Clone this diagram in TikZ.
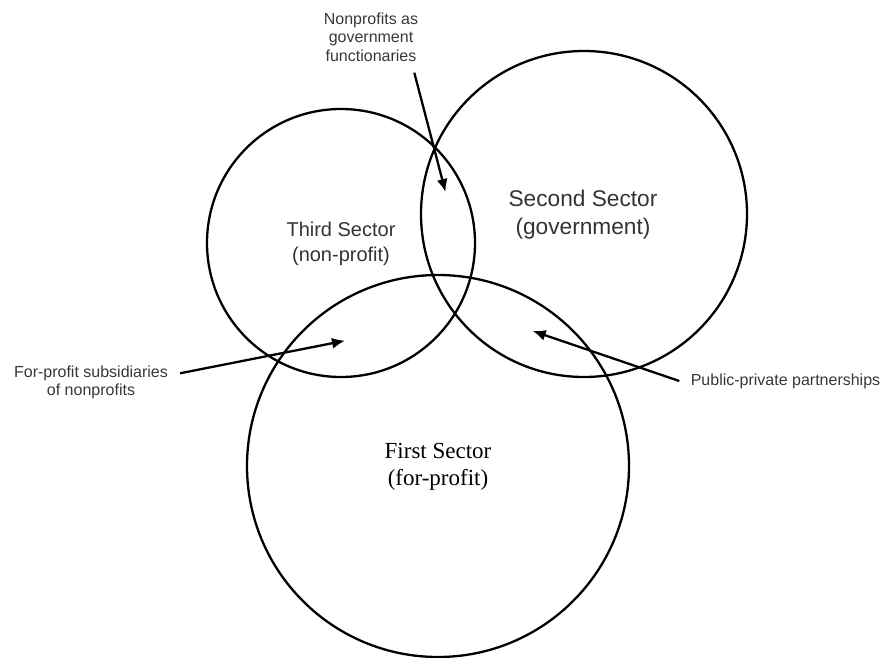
\documentclass[tikz,border=0pt]{standalone}
\usepackage{fontspec}
\setmainfont{Liberation Serif}
\setsansfont{Liberation Sans}
\usetikzlibrary{arrows.meta}
\begin{document}
\begin{tikzpicture}[x=1pt,y=-1pt,
  sector/.style={circle, draw=black, line width=2.3pt, inner sep=0pt},
  lbl/.style={font=\sffamily\fontsize{16}{18.5}\selectfont, text=black!78, align=center, inner sep=0pt},
  biglbl/.style={font=\sffamily, text=black!80, align=center, inner sep=0pt},
  serlbl/.style={font=\rmfamily\fontsize{23}{27}\selectfont, text=black, align=center, inner sep=0pt},
  arr/.style={line width=2.3pt, -{Latex[length=13pt,width=11pt]}},
]
\useasboundingbox (0,0) rectangle (886,658);
% circles
\node[sector, minimum size=268pt] (third) at (341,243) {};
\node[sector, minimum size=326pt] (second) at (584,214) {};
\node[sector, minimum size=382pt] (first) at (438,466) {};
% sector labels
\node[biglbl, font=\sffamily\fontsize{20}{25}\selectfont] (thirdtxt) at (341,244) {Third Sector\\(non-profit)};
\node[biglbl, font=\sffamily\fontsize{22.7}{27.3}\selectfont] (secondtxt) at (583,214.5) {Second Sector\\(government)};
\node[serlbl] (firsttxt) at (438,466.5) {First Sector\\(for-profit)};
% side labels
\node[lbl] (np) at (371,37) {Nonprofits as\\government\\functionaries};
\node[lbl] (fp) at (91,382.5) {For-profit subsidiaries\\of nonprofits};
\node[lbl] (pp) at (785.5,381) {Public-private partnerships};
% arrow ends
\coordinate (npstart) at (414.3,72.7);
\coordinate (nptip) at (445.5,192);
\coordinate (fpstart) at (180,373.3);
\coordinate (fptip) at (345,340.7);
\coordinate (ppstart) at (679.3,381);
\coordinate (pptip) at (532.7,331);
\draw[arr] (npstart) -- (nptip);
\draw[arr] (fpstart) -- (fptip);
\draw[arr] (ppstart) -- (pptip);
\end{tikzpicture}
\end{document}
